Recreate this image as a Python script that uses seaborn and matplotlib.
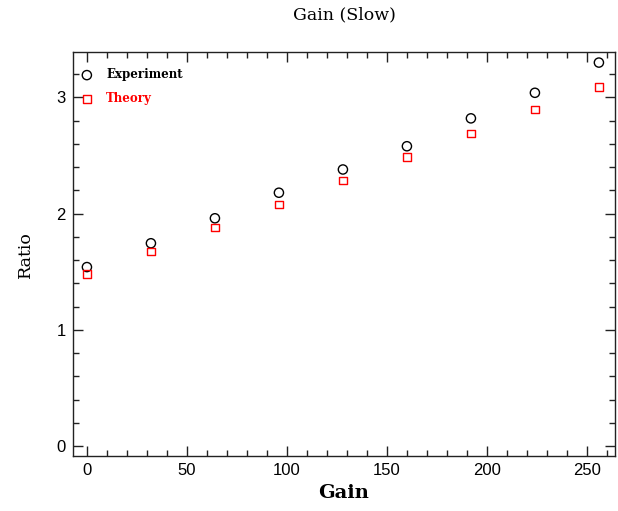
import matplotlib
matplotlib.use("Agg")
import matplotlib.pyplot as plt
import seaborn as sns
import pandas as pd
from matplotlib.ticker import MultipleLocator

gain = [0, 32, 64, 96, 128, 160, 192, 224, 256]
experiment = [1.54, 1.745, 1.96, 2.18, 2.38, 2.58, 2.82, 3.04, 3.30]
theory = [1.48, 1.675, 1.88, 2.08, 2.285, 2.485, 2.69, 2.895, 3.09]

sns.set_style("ticks")
plt.rcParams['font.family'] = ['Liberation Sans', 'DejaVu Sans']
plt.rcParams['text.color'] = 'black'
plt.rcParams['axes.labelcolor'] = 'black'

fig = plt.figure(figsize=(6.18, 5.11), dpi=100)
ax = fig.add_axes([0.118, 0.1076, 0.877, 0.7904])

df_e = pd.DataFrame({"Gain": gain, "Ratio": experiment})
df_t = pd.DataFrame({"Gain": gain, "Ratio": theory})

sns.scatterplot(data=df_e, x="Gain", y="Ratio", marker="o", s=44,
                facecolors="none", edgecolor="black", linewidth=1.0,
                ax=ax, label="Experiment")
sns.scatterplot(data=df_t, x="Gain", y="Ratio", marker="s", s=30,
                facecolors="none", edgecolor="red", linewidth=1.0,
                ax=ax, label="Theory")

ax.set_xlim(-7, 264)
ax.set_ylim(-0.086, 3.39)
ax.xaxis.set_major_locator(MultipleLocator(50))
ax.xaxis.set_minor_locator(MultipleLocator(10))
ax.yaxis.set_major_locator(MultipleLocator(1))
ax.yaxis.set_minor_locator(MultipleLocator(0.2))
ax.tick_params(which="both", direction="in", top=True, right=True,
               width=1.0, color="#222222", labelcolor="black")
ax.tick_params(which="major", length=7, labelsize=12, pad=5)
ax.tick_params(which="minor", length=4)
for sp in ax.spines.values():
    sp.set_linewidth(1.0)
    sp.set_color("#222222")

ax.set_xlabel("Gain", fontsize=14, fontweight="bold", family="DejaVu Serif",
              labelpad=4, color="black")
ax.set_ylabel("Ratio", fontsize=12.5, family="DejaVu Serif", labelpad=16,
              color="black")
fig.text(0.558, 0.970, "Gain (Slow)", ha="center", va="center",
         fontsize=12.5, family="DejaVu Serif", color="black")

leg = ax.legend(loc="upper left", bbox_to_anchor=(0.005, 0.966), frameon=False,
                handlelength=1.5, handletextpad=0.87,
                borderaxespad=0.0, labelspacing=0.9, borderpad=0.2,
                prop={"family": "DejaVu Serif", "weight": "bold", "size": 8.5})
for txt, col in zip(leg.get_texts(), ["black", "red"]):
    txt.set_color(col)

fig.savefig("out.png", dpi=100)
